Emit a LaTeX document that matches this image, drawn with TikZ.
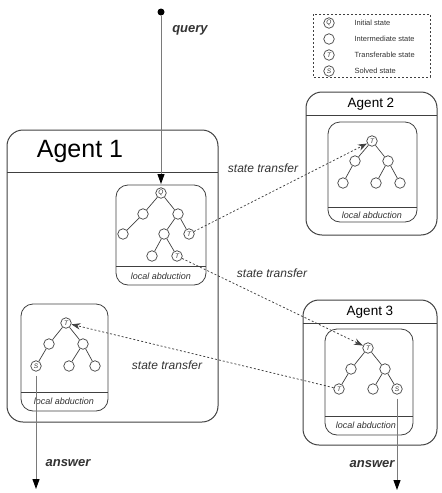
\documentclass[tikz,border=0pt]{standalone}
\usepackage{fontspec}
\setmainfont{Liberation Sans}
\usetikzlibrary{arrows.meta}

\definecolor{linegray}{HTML}{404040}
\definecolor{arrowgray}{HTML}{7A7A7A}
\definecolor{textgray}{HTML}{333333}

\begin{document}
\begin{tikzpicture}[x=1pt, y=-1pt,
    agentbox/.style={draw=linegray, line width=1pt, rounded corners=16pt},
    abdbox/.style={draw=linegray, line width=0.8pt, rounded corners=12pt},
    state/.style={circle, draw=linegray, line width=0.7pt, minimum size=10.5pt, inner sep=0pt,
                  font=\fontsize{6.5}{7}\selectfont\itshape, text=textgray},
    treeedge/.style={draw=linegray, line width=0.7pt},
    transfer/.style={draw=linegray, line width=0.75pt, dash pattern=on 2pt off 2pt,
                     -{Stealth[length=9pt, width=6.5pt]}},
    flow/.style={draw=arrowgray, line width=1pt, -{Triangle[length=10pt, width=7pt, color=black]}},
    lbl/.style={font=\fontsize{12}{14}\selectfont\itshape, text=textgray},
    iolbl/.style={font=\fontsize{13}{15}\selectfont\bfseries\itshape, text=textgray},
    abdlbl/.style={font=\fontsize{9}{10}\selectfont\itshape, text=textgray},
    legtxt/.style={font=\fontsize{7.5}{9}\selectfont, text=textgray, anchor=west}]
    \useasboundingbox (0,0) rectangle (442,493);

    % Legend
    \draw[linegray, line width=0.7pt, dash pattern=on 2pt off 2pt] (313,14) rectangle (430,77);
    \foreach \y/\sym/\txt in {23/Q/Initial state, 39//Intermediate state,
                              55/T/Transferable state, 71/S/Solved state} {
        \node[state] (leg\y) at (329,\y) {\sym};
        \node[legtxt] (legtxt\y) at (351,\y) {\txt};
    }

    % Agent boxes
    \draw[agentbox] (7,130) rectangle (218,422);
    \draw[linegray, line width=1pt] (7,172) -- (218,172);
    \node[font=\fontsize{25}{28}\selectfont] (agent1) at (80,151) {Agent 1};

    \draw[agentbox] (306,92) rectangle (437,235);
    \draw[linegray, line width=1pt] (306,115) -- (437,115);
    \node[font=\fontsize{13.5}{15}\selectfont] (agent2) at (371,104) {Agent 2};

    \draw[agentbox] (303,300) rectangle (437,445);
    \draw[linegray, line width=1pt] (303,323) -- (437,323);
    \node[font=\fontsize{13.5}{15}\selectfont] (agent3) at (370,312) {Agent 3};

    % Local abduction boxes
    \draw[abdbox] (116,185) rectangle (206,285);
    \draw[linegray, line width=0.8pt] (116,266) -- (206,266);
    \node[abdlbl] (abdA) at (161,276) {local abduction};

    \draw[abdbox] (328,122) rectangle (417,222);
    \draw[linegray, line width=0.8pt] (328,207) -- (417,207);
    \node[abdlbl] (abdB) at (372,215) {local abduction};

    \draw[abdbox] (325,329) rectangle (413,435);
    \draw[linegray, line width=0.8pt] (325,416) -- (413,416);
    \node[abdlbl] (abdC) at (366,425) {local abduction};

    \draw[abdbox] (21,304) rectangle (108,411);
    \draw[linegray, line width=0.8pt] (21,392) -- (108,392);
    \node[abdlbl] (abdD) at (64,401) {local abduction};

    % Tree in agent 1 (upper)
    \node[state] (aq) at (161,193) {Q};
    \node[state] (a1) at (143,214) {};
    \node[state] (a2) at (178,214) {};
    \node[state] (a3) at (123,234) {};
    \node[state] (a4) at (164,234) {};
    \node[state] (at1) at (189,234) {T};
    \node[state] (a5) at (152,256) {};
    \node[state] (at2) at (177,256) {T};
    \draw[treeedge] (aq) -- (a1) (aq) -- (a2) (a1) -- (a3) (a2) -- (a4)
                    (a2) -- (at1) (a4) -- (a5) (a4) -- (at2);

    % Tree in agent 2
    \node[state] (bt) at (372,141) {T};
    \node[state] (b1) at (355,161) {};
    \node[state] (b2) at (388,161) {};
    \node[state] (b3) at (343,183) {};
    \node[state] (b4) at (376,183) {};
    \node[state] (b5) at (400,183) {};
    \draw[treeedge] (bt) -- (b1) (bt) -- (b2) (b1) -- (b3) (b2) -- (b4) (b2) -- (b5);

    % Tree in agent 3
    \node[state] (ct) at (368,348) {T};
    \node[state] (c1) at (351,369) {};
    \node[state] (c2) at (385,369) {};
    \node[state] (ct2) at (339,389) {T};
    \node[state] (c3) at (373,389) {};
    \node[state] (cs) at (397,389) {S};
    \draw[treeedge] (ct) -- (c1) (ct) -- (c2) (c1) -- (ct2) (c2) -- (c3) (c2) -- (cs);

    % Tree in agent 1 (lower)
    \node[state] (dt) at (66,323) {T};
    \node[state] (d1) at (49,344) {};
    \node[state] (d2) at (83,344) {};
    \node[state] (ds) at (36,366) {S};
    \node[state] (d3) at (69,366) {};
    \node[state] (d4) at (95,366) {};
    \draw[treeedge] (dt) -- (d1) (dt) -- (d2) (d1) -- (ds) (d2) -- (d3) (d2) -- (d4);

    % State transfers
    \draw[transfer] (at1) -- (bt);
    \draw[transfer] (at2) -- (ct);
    \draw[transfer] (ct2) -- (dt);
    \node[lbl] (st1) at (263,168) {state transfer};
    \node[lbl] (st2) at (272,273) {state transfer};
    \node[lbl] (st3) at (167,365) {state transfer};

    % Query and answers
    \node[circle, fill=black, minimum size=7pt, inner sep=0pt] (qstart) at (161,12) {};
    \coordinate (qend) at (161,184);
    \draw[flow] (qstart) -- (qend);
    \node[iolbl] (query) at (190,30) {query};

    \coordinate (ansD) at (36,489);
    \draw[flow, shorten <=4pt] (ds) -- (ansD);
    \node[iolbl] (answerD) at (68,463) {answer};

    \coordinate (ansC) at (397,490);
    \draw[flow, shorten <=4pt] (cs) -- (ansC);
    \node[iolbl] (answerC) at (372,464) {answer};
\end{tikzpicture}
\end{document}
